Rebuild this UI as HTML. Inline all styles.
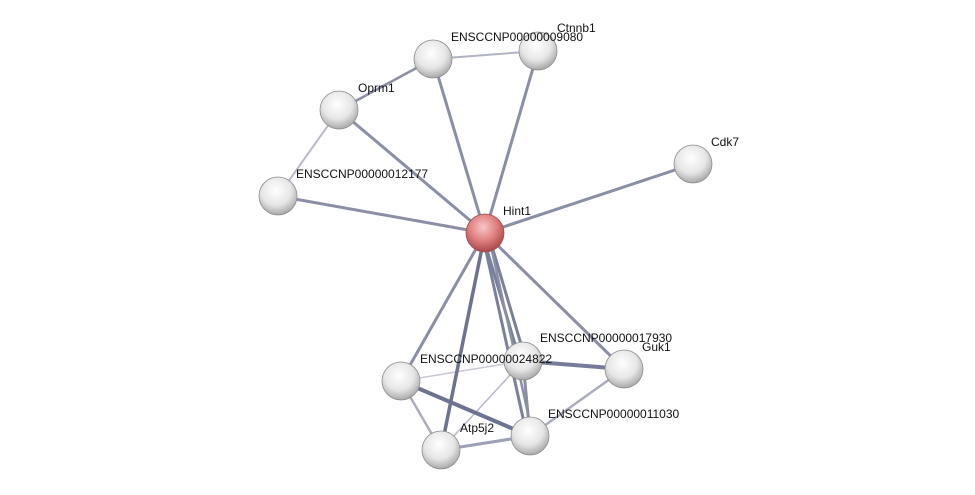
<!DOCTYPE html>
<html><head><meta charset="utf-8"><style>
html,body{margin:0;padding:0;background:#fff;width:975px;height:495px;overflow:hidden}
text{font-family:"Liberation Sans",sans-serif;font-size:12px;fill:#111}
</style></head><body>
<svg width="975" height="495" viewBox="0 0 975 495">
<defs>
<radialGradient id="g" cx="45%" cy="35%" r="65%">
<stop offset="0" stop-color="#ffffff"/><stop offset="0.6" stop-color="#e6e6e6"/><stop offset="1" stop-color="#a9a9a9"/>
</radialGradient>
<radialGradient id="r" cx="45%" cy="35%" r="65%">
<stop offset="0" stop-color="#f7c8c8"/><stop offset="0.55" stop-color="#e07f7f"/><stop offset="1" stop-color="#a84848"/>
</radialGradient>
</defs>
<g stroke-linecap="round">
<g stroke="#8a8fa6" stroke-width="3">
<line x1="485" y1="233" x2="433" y2="59"/>
<line x1="485" y1="233" x2="538" y2="51"/>
<line x1="485" y1="233" x2="339" y2="110"/>
<line x1="485" y1="233" x2="278" y2="196"/>
<line x1="485" y1="233" x2="693" y2="164"/>
<line x1="485" y1="233" x2="401" y2="381"/>
<line x1="485" y1="233" x2="624" y2="369"/>
<line x1="339" y1="110" x2="433" y2="59" stroke-width="2.5"/>
<line x1="523" y1="361" x2="530" y2="436"/>
<line x1="401" y1="381" x2="441" y2="450" stroke="#a9adbd" stroke-width="2.5"/>
<line x1="624" y1="369" x2="530" y2="436" stroke="#a9adbd" stroke-width="2.5"/>
<line x1="441" y1="450" x2="530" y2="436" stroke="#9ca1b6" stroke-width="3"/>
</g>
<line x1="433" y1="59" x2="538" y2="51" stroke="#b1b4c2" stroke-width="2"/>
<line x1="339" y1="110" x2="278" y2="196" stroke="#b8bbc8" stroke-width="2"/>
<line x1="401" y1="381" x2="523" y2="361" stroke="#c6c9d4" stroke-width="1.5"/>
<line x1="441" y1="450" x2="523" y2="361" stroke="#b6bacb" stroke-width="1.5"/>
<line x1="485" y1="233" x2="441" y2="450" stroke="#6c7290" stroke-width="3.5"/>
<line x1="482" y1="233" x2="520" y2="361" stroke="#7a809a" stroke-width="3"/>
<line x1="488" y1="233" x2="526" y2="361" stroke="#7a809a" stroke-width="3"/>
<line x1="482" y1="233" x2="527" y2="436" stroke="#7a809a" stroke-width="3"/>
<line x1="488" y1="233" x2="533" y2="436" stroke="#8a8fa6" stroke-width="2.5"/>
<line x1="401" y1="381" x2="530" y2="436" stroke="#6c7290" stroke-width="4"/>
<line x1="523" y1="361" x2="624" y2="369" stroke="#767c98" stroke-width="4"/>
</g>
<g stroke="#8d8d8d" stroke-width="0.8" fill="url(#g)">
<circle cx="433" cy="59" r="19"/>
<circle cx="538" cy="51" r="19"/>
<circle cx="339" cy="110" r="19"/>
<circle cx="278" cy="196" r="19"/>
<circle cx="693" cy="164" r="19"/>
<circle cx="401" cy="381" r="19"/>
<circle cx="523" cy="361" r="19"/>
<circle cx="624" cy="369" r="19"/>
<circle cx="441" cy="450" r="19"/>
<circle cx="530" cy="436" r="19"/>
<circle cx="485" cy="233" r="19" fill="url(#r)" stroke="#a05050"/>
</g>
<text x="557" y="32">Ctnnb1</text>
<text x="451" y="41">ENSCCNP00000009080</text>
<text x="358" y="92">Oprm1</text>
<text x="296" y="178">ENSCCNP00000012177</text>
<text x="711" y="146">Cdk7</text>
<text x="503" y="215">Hint1</text>
<text x="540" y="342">ENSCCNP00000017930</text>
<text x="642" y="351">Guk1</text>
<text x="420" y="363">ENSCCNP00000024822</text>
<text x="548" y="418">ENSCCNP00000011030</text>
<text x="460" y="432">Atp5j2</text>
</svg>
</body></html>
